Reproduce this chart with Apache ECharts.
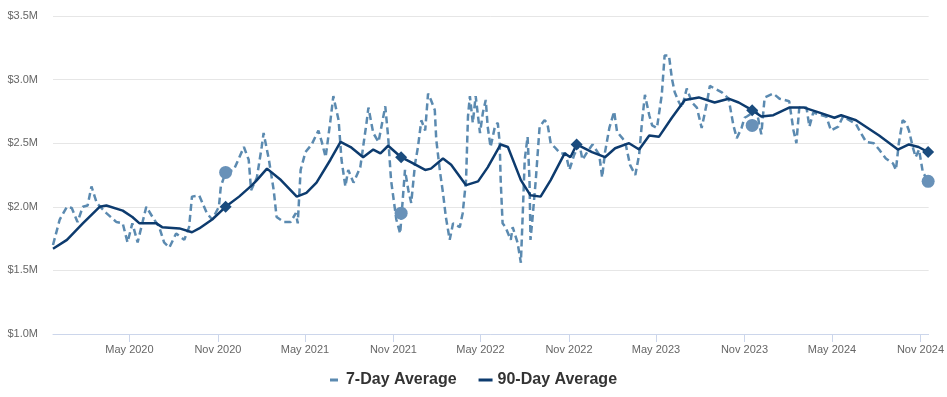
<!DOCTYPE html>
<html>
<head>
<meta charset="utf-8">
<script src="https://cdn.jsdelivr.net/npm/echarts@6/dist/echarts.min.js"></script>
<style>
  html, body { margin: 0; padding: 0; background: #fff; }
  #container { width: 947px; height: 397px; }
</style>
</head>
<body>
<div id="container"></div>
<script>
// values in $ millions
var dates7 = [
  '2019-11-24', '2019-12-08', '2019-12-23', '2020-01-02', '2020-01-14', '2020-01-25', '2020-02-04', '2020-02-12',
  '2020-02-23', '2020-03-14', '2020-04-04', '2020-04-17', '2020-04-27', '2020-05-07', '2020-05-18', '2020-06-05',
  '2020-06-18', '2020-07-02', '2020-07-12', '2020-07-23', '2020-08-06', '2020-08-23', '2020-09-02', '2020-09-08',
  '2020-09-23', '2020-10-09', '2020-10-20', '2020-11-03', '2020-11-07', '2020-11-17', '2020-12-04', '2020-12-25',
  '2021-01-04', '2021-01-09', '2021-01-21', '2021-01-31', '2021-02-04', '2021-02-15', '2021-02-25', '2021-03-03',
  '2021-03-18', '2021-04-01', '2021-04-12', '2021-04-16', '2021-04-22', '2021-05-02', '2021-05-15', '2021-05-29',
  '2021-06-05', '2021-06-13', '2021-06-23', '2021-06-29', '2021-07-10', '2021-07-16', '2021-07-24', '2021-07-30',
  '2021-08-10', '2021-08-24', '2021-09-06', '2021-09-10', '2021-09-20', '2021-10-01', '2021-10-07', '2021-10-15',
  '2021-10-21', '2021-10-27', '2021-11-07', '2021-11-15', '2021-11-25', '2021-12-02', '2021-12-08', '2021-12-16',
  '2021-12-22', '2021-12-29', '2022-01-06', '2022-01-12', '2022-01-18', '2022-01-26', '2022-01-29', '2022-02-06',
  '2022-02-12', '2022-02-18', '2022-02-26', '2022-03-05', '2022-03-19', '2022-03-25', '2022-04-01', '2022-04-05',
  '2022-04-09', '2022-04-15', '2022-04-21', '2022-04-30', '2022-05-06', '2022-05-12', '2022-05-16', '2022-05-22',
  '2022-05-31', '2022-06-06', '2022-06-10', '2022-06-12', '2022-06-16', '2022-06-22', '2022-07-03', '2022-07-07',
  '2022-07-17', '2022-07-24', '2022-07-28', '2022-08-01', '2022-08-07', '2022-08-11', '2022-08-13', '2022-08-17',
  '2022-08-24', '2022-09-01', '2022-09-11', '2022-09-17', '2022-09-24', '2022-10-02', '2022-10-14', '2022-10-25',
  '2022-11-02', '2022-11-12', '2022-11-23', '2022-11-29', '2022-12-09', '2022-12-20', '2023-01-03', '2023-01-09',
  '2023-01-15', '2023-01-24', '2023-02-03', '2023-02-09', '2023-02-20', '2023-02-26', '2023-03-08', '2023-03-19',
  '2023-03-27', '2023-04-02', '2023-04-08', '2023-04-17', '2023-04-23', '2023-05-03', '2023-05-13', '2023-05-19',
  '2023-05-28', '2023-06-03', '2023-06-09', '2023-06-18', '2023-06-24', '2023-07-04', '2023-07-15', '2023-07-25',
  '2023-08-04', '2023-08-15', '2023-08-21', '2023-08-31', '2023-09-15', '2023-09-29', '2023-10-09', '2023-10-16',
  '2023-10-26', '2023-11-01', '2023-11-06', '2023-11-26', '2023-12-06', '2023-12-13', '2023-12-31', '2024-01-13',
  '2024-02-02', '2024-02-11', '2024-02-17', '2024-02-23', '2024-03-09', '2024-03-15', '2024-03-23', '2024-04-19',
  '2024-04-29', '2024-05-14', '2024-05-24', '2024-06-20', '2024-06-30', '2024-07-11', '2024-07-27', '2024-08-07',
  '2024-08-21', '2024-09-05', '2024-09-11', '2024-09-17', '2024-09-25', '2024-10-02', '2024-10-08', '2024-10-16',
  '2024-10-22', '2024-10-29', '2024-11-06', '2024-11-18'
];
var vals7 = [
  1.70, 1.90, 2.00, 1.99, 1.88, 2.00, 2.01, 2.16,
  2.03, 1.95, 1.88, 1.87, 1.72, 1.87, 1.72, 2.00,
  1.92, 1.84, 1.72, 1.68, 1.79, 1.74, 1.84, 2.08,
  2.09, 1.95, 1.90, 2.00, 2.16, 2.27, 2.29, 2.47,
  2.37, 2.13, 2.23, 2.47, 2.58, 2.37, 2.13, 1.92,
  1.88, 1.88, 1.95, 1.87, 2.29, 2.43, 2.49, 2.60,
  2.51, 2.39, 2.68, 2.87, 2.68, 2.37, 2.16, 2.29,
  2.19, 2.31, 2.66, 2.78, 2.58, 2.51, 2.63, 2.79,
  2.55, 2.21, 1.90, 1.79, 2.29, 2.13, 2.03, 2.34,
  2.47, 2.68, 2.60, 2.89, 2.84, 2.76, 2.53, 2.27,
  2.11, 1.92, 1.74, 1.87, 1.84, 1.95, 2.21, 2.71,
  2.87, 2.66, 2.87, 2.58, 2.74, 2.84, 2.63, 2.47,
  2.63, 2.66, 2.50, 2.21, 1.87, 1.84, 1.74, 1.84,
  1.72, 1.56, 1.95, 2.37, 2.55, 2.21, 1.74, 1.90,
  2.21, 2.63, 2.68, 2.66, 2.50, 2.47, 2.42, 2.42,
  2.29, 2.41, 2.49, 2.37, 2.43, 2.49, 2.41, 2.23,
  2.43, 2.62, 2.75, 2.59, 2.54, 2.51, 2.33, 2.25,
  2.41, 2.67, 2.88, 2.72, 2.64, 2.62, 2.88, 3.19,
  3.19, 3.01, 2.90, 2.82, 2.78, 2.93, 2.82, 2.78,
  2.62, 2.82, 2.95, 2.93, 2.90, 2.85, 2.64, 2.54,
  2.62, 2.70, 2.71, 2.76, 2.57, 2.86, 2.89, 2.85,
  2.83, 2.60, 2.50, 2.78, 2.78, 2.63, 2.74, 2.71,
  2.60, 2.63, 2.71, 2.65, 2.58, 2.51, 2.50, 2.45,
  2.38, 2.34, 2.29, 2.50, 2.68, 2.66, 2.60, 2.47,
  2.39, 2.45, 2.27, 2.20
];

var dates90 = [
  '2019-11-24', '2019-12-23', '2020-01-25', '2020-02-29', '2020-03-14', '2020-04-17', '2020-05-07', '2020-05-22',
  '2020-06-26', '2020-07-08', '2020-08-13', '2020-09-08', '2020-09-23', '2020-10-20', '2020-11-17', '2020-12-15',
  '2021-01-11', '2021-01-21', '2021-02-11', '2021-03-12', '2021-04-14', '2021-05-04', '2021-05-25', '2021-06-23',
  '2021-07-14', '2021-08-04', '2021-08-30', '2021-09-20', '2021-10-05', '2021-10-21', '2021-11-17', '2021-12-08',
  '2022-01-06', '2022-01-18', '2022-02-12', '2022-03-01', '2022-04-01', '2022-04-26', '2022-05-16', '2022-06-12',
  '2022-06-27', '2022-07-24', '2022-08-13', '2022-09-03', '2022-09-24', '2022-10-23', '2022-11-04', '2022-11-17',
  '2022-12-19', '2023-01-15', '2023-02-05', '2023-03-06', '2023-03-27', '2023-04-17', '2023-05-07', '2023-06-03',
  '2023-06-30', '2023-07-29', '2023-08-31', '2023-09-29', '2023-10-20', '2023-11-17', '2023-12-06', '2023-12-31',
  '2024-02-02', '2024-03-04', '2024-04-05', '2024-05-06', '2024-05-20', '2024-06-20', '2024-08-07', '2024-09-15',
  '2024-10-08', '2024-10-28', '2024-11-17'
];
var vals90 = [
  1.67, 1.74, 1.87, 2.00, 2.01, 1.97, 1.92, 1.87,
  1.87, 1.84, 1.83, 1.80, 1.83, 1.90, 2.00, 2.08,
  2.17, 2.21, 2.30, 2.21, 2.08, 2.11, 2.19, 2.37,
  2.51, 2.47, 2.39, 2.45, 2.42, 2.48, 2.39, 2.35,
  2.29, 2.30, 2.38, 2.33, 2.17, 2.20, 2.31, 2.49,
  2.47, 2.21, 2.09, 2.08, 2.21, 2.42, 2.39, 2.49,
  2.43, 2.39, 2.46, 2.50, 2.45, 2.56, 2.55, 2.70,
  2.84, 2.86, 2.82, 2.85, 2.82, 2.76, 2.71, 2.72,
  2.78, 2.78, 2.74, 2.70, 2.72, 2.68, 2.56, 2.45,
  2.49, 2.47, 2.43
];

// yearly markers
var markDates = ['2020-11-17', '2021-11-17', '2022-11-17', '2023-11-17', '2024-11-17'];
var mark7 = [2.27, 1.95, null, 2.64, 2.20];
var mark90 = [2.00, 2.39, 2.49, 2.76, 2.43];

var tickDates = [
  '2020-05-01', '2020-11-01', '2021-05-01', '2021-11-01', '2022-05-01',
  '2022-11-01', '2023-05-01', '2023-11-01', '2024-05-01', '2024-11-01'
];
var xStart = '2019-11-24';
var xEnd = '2024-11-18';
var monthNames = ['Jan', 'Feb', 'Mar', 'Apr', 'May', 'Jun', 'Jul', 'Aug', 'Sep', 'Oct', 'Nov', 'Dec'];

function ts(d) {
  return Date.UTC(+d.slice(0, 4), +d.slice(5, 7) - 1, +d.slice(8, 10));
}
function zip(d, v) {
  return d.map(function (x, i) { return [ts(x), v[i]]; });
}
var tickTimes = tickDates.map(ts);

var dom = document.getElementById('container');
var myChart = echarts.init(dom);
var font = 'Liberation Sans, Arial, sans-serif';
var c7 = '#5b8ab0';
var c90 = '#0d3b6e';

var option = {
  animation: false,
  textStyle: { fontFamily: font },
  grid: { left: 53, right: 14, top: 16, bottom: 63 },
  legend: {
    bottom: 4,
    left: 'center',
    itemGap: 22,
    itemWidth: 14,
    itemHeight: 3,
    textStyle: { fontSize: 16, fontWeight: 'bold', color: '#333', fontFamily: font },
    data: [
      { name: '7-Day Average', icon: 'path://M0 0h8v3h-8z', itemStyle: { color: c7 } },
      { name: '90-Day Average', icon: 'path://M0 0h14v3h-14z', itemStyle: { color: c90 } }
    ]
  },
  xAxis: {
    type: 'value',
    min: ts(xStart),
    max: ts(xEnd),
    axisLine: { lineStyle: { color: '#ccd6eb', width: 1 } },
    axisTick: { show: true, length: 8, customValues: tickTimes, lineStyle: { color: '#ccd6eb' } },
    splitLine: { show: false },
    axisLabel: {
      customValues: tickTimes,
      color: '#666',
      fontSize: 11,
      margin: 10,
      formatter: function (v) {
        var d = new Date(v);
        return monthNames[d.getUTCMonth()] + ' ' + d.getUTCFullYear();
      }
    }
  },
  yAxis: {
    type: 'value',
    min: 1.0,
    max: 3.5,
    interval: 0.5,
    axisLine: { show: false },
    axisTick: { show: false },
    splitLine: { lineStyle: { color: '#e6e6e6', width: 1 } },
    axisLabel: {
      color: '#666',
      fontSize: 11,
      margin: 15,
      formatter: function (v) { return '$' + v.toFixed(1) + 'M'; }
    }
  },
  series: [
    {
      name: '7-Day Average',
      type: 'line',
      data: zip(dates7, vals7),
      symbol: 'none',
      color: c7,
      lineStyle: { width: 2.5, type: [7, 4], color: c7 },
      z: 2
    },
    {
      name: '90-Day Average',
      type: 'line',
      data: zip(dates90, vals90),
      symbol: 'none',
      color: c90,
      lineStyle: { width: 2.5, color: c90 },
      z: 3
    },
    {
      name: '7-Day marker',
      type: 'scatter',
      data: zip(markDates, mark7),
      symbol: 'circle',
      symbolSize: 13,
      itemStyle: { color: '#6891b8', opacity: 1 },
      z: 4
    },
    {
      name: '90-Day marker',
      type: 'scatter',
      data: zip(markDates, mark90),
      symbol: 'diamond',
      symbolSize: 12,
      itemStyle: { color: '#1b4c7e', opacity: 1 },
      z: 5
    }
  ]
};

if (option && typeof option === 'object') {
  myChart.setOption(option);
}
</script>
</body>
</html>
